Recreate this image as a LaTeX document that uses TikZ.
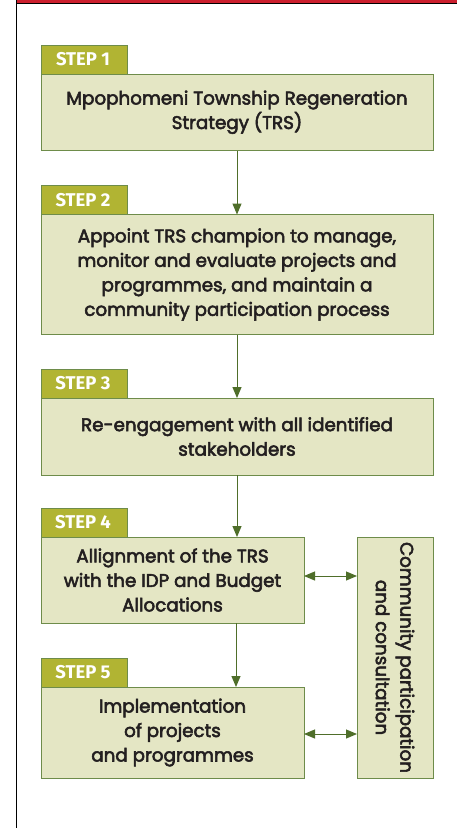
\documentclass[tikz,border=0pt]{standalone}
\usepackage{fontspec}
\setmainfont{Poppins}
\newfontfamily\bodyfont{Poppins}[FakeBold=3]
\newfontfamily\tagfont{Fira Sans}
\usetikzlibrary{arrows.meta}
\definecolor{tagolive}{HTML}{B1B433}
\definecolor{boxfill}{HTML}{E4E6C4}
\definecolor{boxline}{HTML}{6E8C4A}
\definecolor{arrgreen}{HTML}{4F6E2A}
\definecolor{topred}{HTML}{CC1F2E}
\definecolor{txt}{HTML}{231F20}
\tikzset{
  bodytext/.style={text=txt, align=center, font=\bodyfont\fontsize{18.3}{24.5}\selectfont},
  stepbox/.style={draw=boxline, fill=boxfill, line width=1pt, inner sep=0pt, outer sep=0pt,
    bodytext, anchor=north west},
  tagbox/.style={draw=boxline, fill=tagolive, line width=1pt, inner sep=0pt, outer sep=0pt,
    minimum width=86pt, minimum height=29pt, anchor=south west, text=white,
    font=\tagfont\fontsize{18.5}{20}\selectfont\bfseries},
  arr/.style={draw=arrgreen, line width=1pt, -{Triangle[length=11pt,width=9pt]}},
  dbl/.style={draw=arrgreen, line width=1pt, {Triangle[length=11pt,width=9pt]}-{Triangle[length=11pt,width=9pt]}}
}
\begin{document}
\begin{tikzpicture}[x=1pt,y=-1pt]
\useasboundingbox (0,0) rectangle (457,828);
\fill[white] (0,0) rectangle (457,828);
\fill[topred] (16,0) rectangle (457,3);
\draw[black, line width=0.8pt] (16,3.4) -- (457,3.4);
\draw[black, line width=1pt] (16.5,0) -- (16.5,828);

\node[stepbox, minimum width=392pt, minimum height=76.5pt] (b1) at (41,74)
  {Mpophomeni Township Regeneration\\Strategy (TRS)};
\node[stepbox, minimum width=392pt, minimum height=120pt] (b2) at (41,214.5)
  {Appoint TRS champion to manage,\\monitor and evaluate projects and\\programmes, and maintain a\\community participation process};
\node[stepbox, minimum width=392pt, minimum height=77pt] (b3) at (41,398)
  {Re-engagement with all identified\\stakeholders};
\node[stepbox, minimum width=263pt, minimum height=86pt] (b4) at (41,537)
  {Allignment of the TRS\\with the IDP and Budget\\Allocations};
\node[stepbox, minimum width=263pt, minimum height=91pt] (b5) at (41,687)
  {Implementation\\of projects\\and programmes};
\node[stepbox, minimum width=76pt, minimum height=241pt] (c) at (357,537) {};
\node[bodytext, rotate=-90] (ct) at (c.center)
  {Community participation\\and consultation};

\node[tagbox] (t1) at (41,74) {\hspace*{-2pt}STEP 1};
\node[tagbox] (t2) at (41,214.5) {\hspace*{-2pt}STEP 2};
\node[tagbox] (t3) at (41,398) {\hspace*{-2pt}STEP 3};
\node[tagbox] (t4) at (41,537) {\hspace*{-2pt}STEP 4};
\node[tagbox] (t5) at (41,687) {\hspace*{-2pt}STEP 5};

\draw[arr] (b1.south) -- (b2.north);
\draw[arr] (b2.south) -- (b3.north);
\draw[arr] (b3.south) -- (b3.south |- b4.north);
\draw[arr] ([xshift=-1pt]b3.south |- b4.south) -- ([xshift=-1pt]b3.south |- b5.north);
\draw[dbl] ([yshift=4pt]b4.east) -- ([yshift=4pt]c.west |- b4.east);
\draw[dbl] ([yshift=-1.5pt]b5.east) -- ([yshift=-1.5pt]c.west |- b5.east);
\end{tikzpicture}
\end{document}
